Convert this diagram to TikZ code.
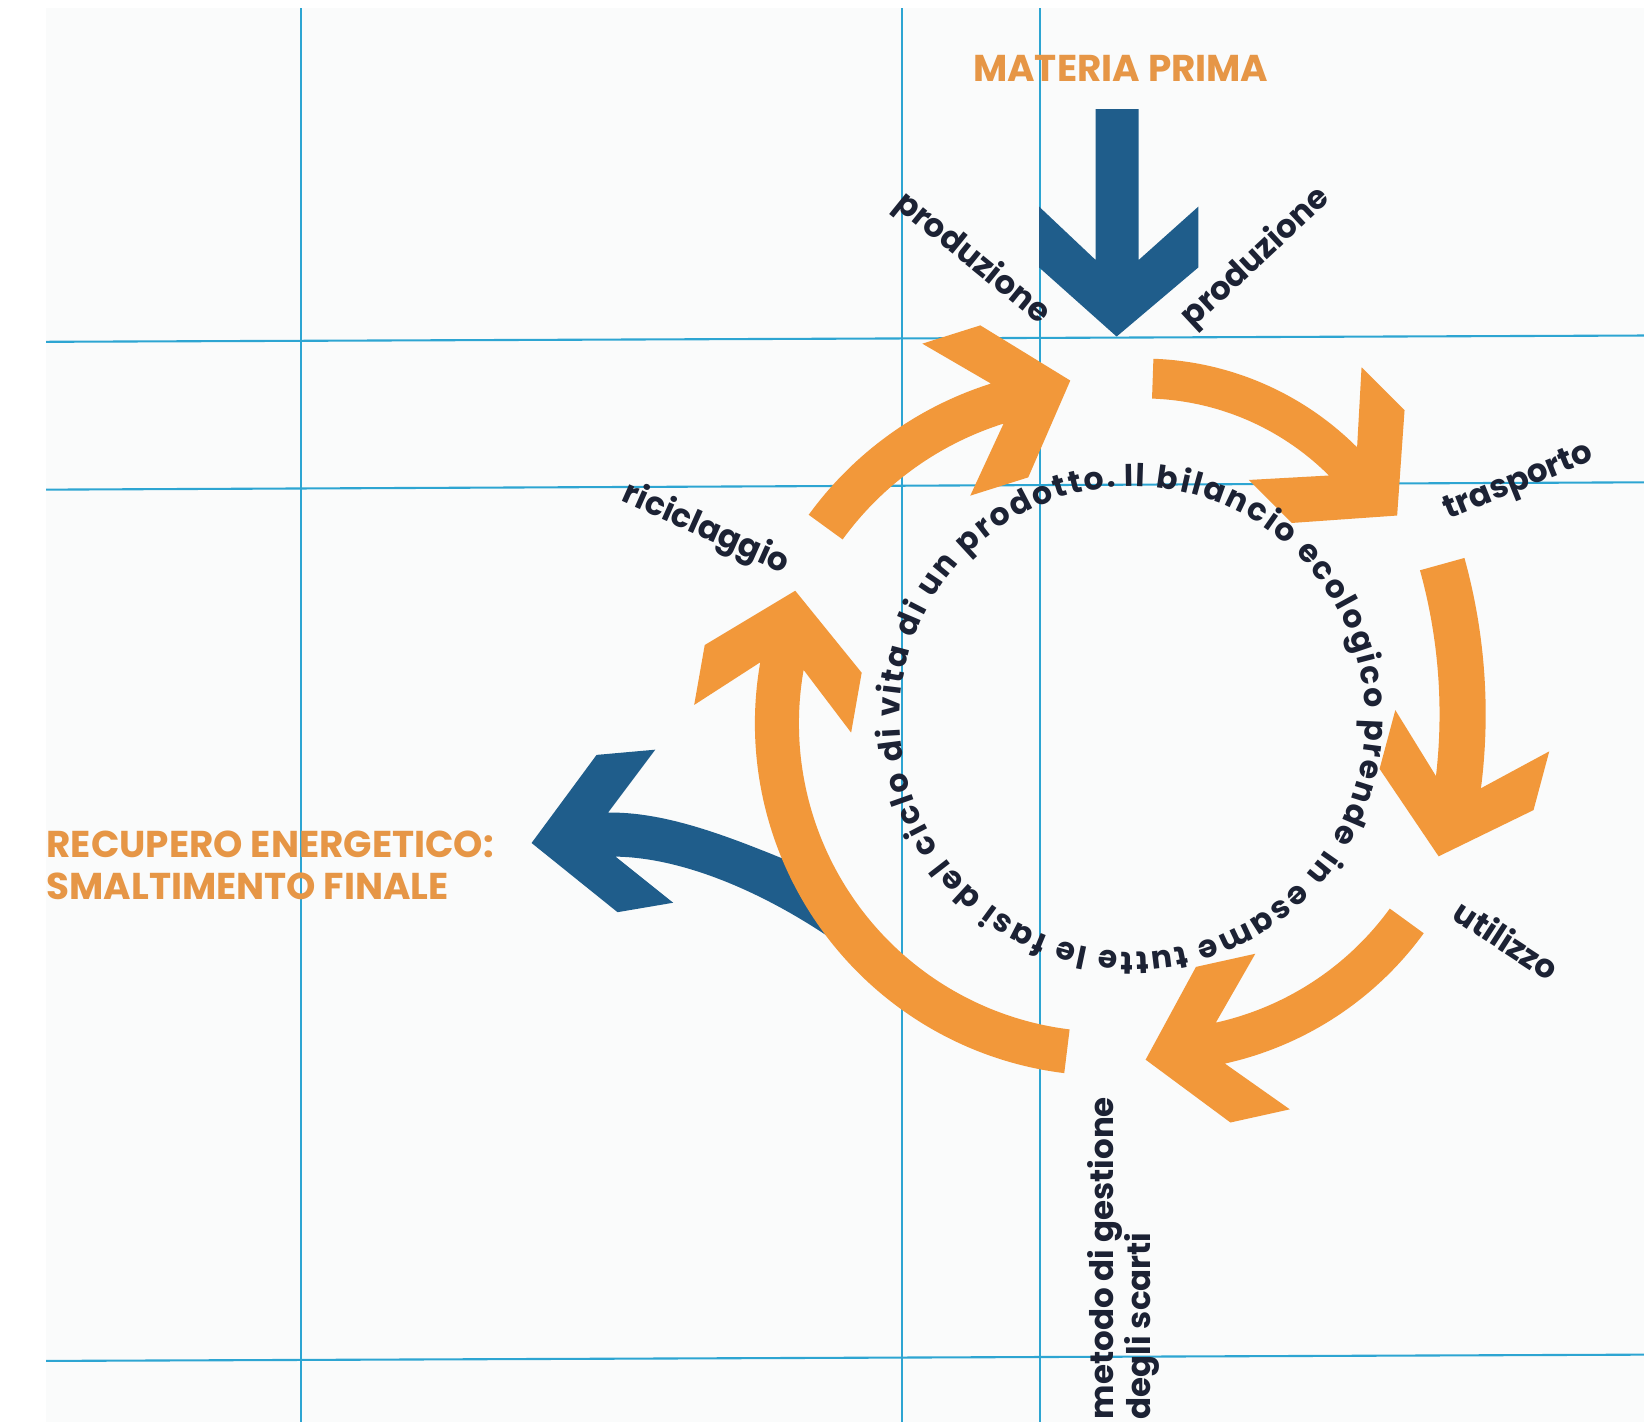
\documentclass[tikz,border=0pt]{standalone}
\usepackage{fontspec}
\setmainfont{Poppins}
\usetikzlibrary{calc,decorations.text}
\definecolor{gridc}{RGB}{45,165,210}
\definecolor{arroworange}{RGB}{242,152,58}
\definecolor{orngtxt}{RGB}{230,150,70}
\definecolor{bluea}{RGB}{31,93,139}
\definecolor{darktxt}{RGB}{28,34,52}
\definecolor{paper}{RGB}{250,251,251}
% #1 name, #2 cx, #3 cy, #4 R, #5 half width, #6 tail angle, #7 notch angle, #8 head tilt
\newcommand\ringarrow[8]{%
  \pgfmathsetmacro\ro{#4+#5}%
  \pgfmathsetmacro\ri{#4-#5}%
  \pgfmathsetmacro\ph{#7+90+#8}%
  \pgfmathsetmacro\phb{#7+270+#8}%
  \pgfmathsetmacro\ps{#7+#8}%
  \pgfmathsetmacro\psb{#7+180+#8}%
  \coordinate (#1c) at (#2,#3);
  \coordinate (#1n) at ($(#1c)+(#7:#4)$);
  \fill[arroworange] ($(#1c)+(#6:\ro)$) arc[start angle=#6, end angle=#7, radius=\ro]
    -- ($(#1n)+(\ps:#5)$)
    -- ($(#1n)+(\phb:51)+(\ps:76)$)
    -- ($(#1n)+(\ph:7)+(\ps:76)$)
    -- ($(#1n)+(\ph:73)$) coordinate (#1tip)
    -- ($(#1n)+(\ph:7)+(\psb:76)$)
    -- ($(#1n)+(\phb:51)+(\psb:76)$)
    -- ($(#1n)+(\psb:#5)$)
    -- ($(#1c)+(#7:\ri)$) arc[start angle=#7, end angle=#6, radius=\ri]
    -- cycle;
}
\tikzset{
  lbl/.style={font=\bfseries\fontsize{15.5}{18}\selectfont, text=darktxt, inner sep=0pt},
  bigorange/.style={font=\bfseries\fontsize{17.8}{20}\selectfont, text=orngtxt, inner sep=0pt},
  gridline/.style={draw=gridc, line width=1pt},
}
\begin{document}
\begin{tikzpicture}[x=0.5pt,y=-0.5pt]
\useasboundingbox (0,0) rectangle (1568,1356);
\fill[white] (0,0) rectangle (1568,1356);
\fill[paper] (44,8) rectangle (1568,1356);
% grid
\draw[gridline] (287,8) -- (287,1356);
\draw[gridline] (860,8) -- (860,1356);
\draw[gridline] (992,8) -- (992,1356);
\draw[gridline] (44,326) -- (1568,320);
\draw[gridline] (44,467) -- (1568,460);
\draw[gridline] (44,1298) -- (1568,1292);
% blue arrow from top
\fill[bluea] (1045,104) -- (1086,104) -- (1086,248) -- (1143,197) -- (1143,255)
  -- (1065,321) -- (991,255) -- (991,197) -- (1045,248) -- cycle;
% orange ring arrows
\ringarrow{A}{1090}{631}{270}{19}{-88}{-45}{0}
\ringarrow{B}{860}{681}{535}{22}{-15.5}{7}{8}
\ringarrow{C}{1099}{702}{300}{20}{36}{77.5}{0}
\ringarrow{E}{1048}{692}{322}{20}{-144}{-107.5}{0}
% blue curved arrow to the left
\fill[bluea] (507,804) -- (569,720) -- (625,715) -- (580,775)
  .. controls (649,774) and (725,811) .. (801,841) -- (815,911)
  .. controls (744,858) and (658,818) .. (587,817) -- (642,861) -- (589,870) -- cycle;
\ringarrow{D}{1056}{690}{315}{21}{97}{190}{0}
% ring text
\path[decorate, decoration={text along path, text align=fit to path, text color=darktxt,
  text={|\bfseries\fontsize{15}{18}\selectfont|Il bilancio ecologico prende in esame tutte le fasi del ciclo di vita di un prodotto.}}]
  (1080,686) ++(-92:222) arc[start angle=-92, end angle=266, radius=222];
% labels
\node[bigorange] (mp) at (1069,65) {MATERIA PRIMA};
\node[bigorange, anchor=west, align=left] (recup) at (44,825) {RECUPERO ENERGETICO:\\SMALTIMENTO FINALE};
\node[lbl, rotate=-39] (prodL) at (927,247) {produzione};
\node[lbl, rotate=43] (prodR) at (1198,246) {produzione};
\node[lbl, rotate=22] (trasp) at (1449,461) {trasporto};
\node[lbl, rotate=-24] (ricic) at (673,505) {riciclaggio};
\node[lbl, rotate=-33] (util) at (1437,896) {utilizzo};
\node[lbl, font=\bfseries\fontsize{15.5}{13}\selectfont, rotate=90, anchor=north west, align=left] (metodo) at (1037,1354) {metodo di gestione\\degli scarti};
\end{tikzpicture}
\end{document}
